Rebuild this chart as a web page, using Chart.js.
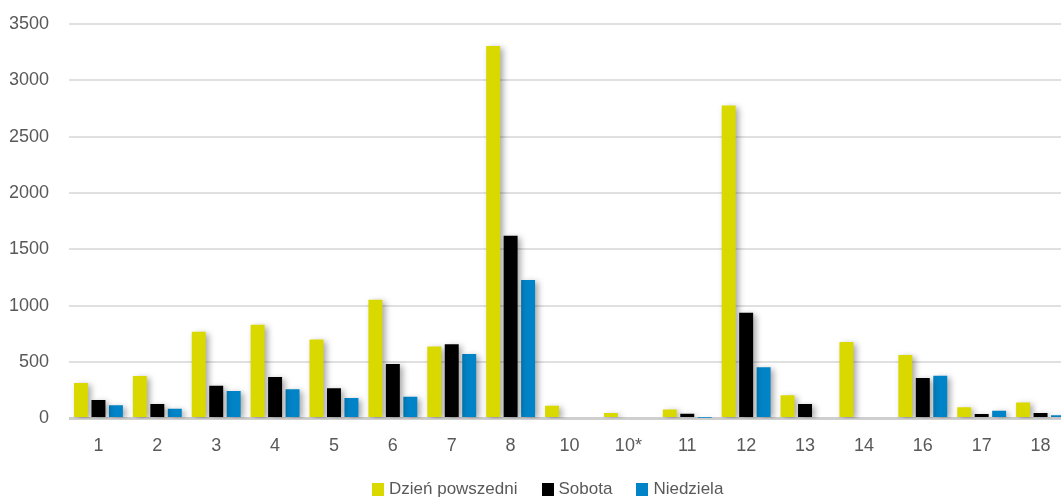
<!DOCTYPE html>
<html>
<head>
<meta charset="utf-8">
<script src="https://cdn.jsdelivr.net/npm/chart.js@4"></script>
<style>
    html, body { margin: 0; padding: 0; background: #fff; overflow: hidden; }
    #wrap { width: 1070px; height: 500px; position: relative; }
    #legend {
        position: absolute; left: 372px; top: 479px;
        display: flex; align-items: center;
        font-family: "Liberation Sans", Arial, sans-serif; font-size: 17px; color: #595959;
        line-height: 20px; white-space: nowrap;
    }
    #legend .item { display: flex; align-items: center; margin-right: 24px; }
    #legend .box { width: 12px; height: 13px; margin-right: 5px; }
</style>
</head>
<body>
<div id="wrap"><canvas id="chart"></canvas><div id="legend"></div></div>
<script>
// Kategorie (linie) i wartości
const categories = ['1', '2', '3', '4', '5', '6', '7', '8', '10', '10*', '11', '12', '13', '14', '16', '17', '18'];
const weekday = [315, 376, 768, 830, 700, 1053, 637, 3304, 112, 47, 80, 2777, 205, 679, 563, 98, 142];
const saturday = [163, 127, 290, 367, 267, 483, 658, 1620, 0, 0, 41, 937, 127, 0, 359, 38, 47];
const sunday = [116, 85, 243, 258, 181, 192, 572, 1228, 0, 0, 5, 454, 0, 0, 379, 68, 29];
const yTicks = [0, 500, 1000, 1500, 2000, 2500, 3000, 3500];

const textColor = '#595959';
const fontFamily = '"Liberation Sans", Arial, sans-serif';

// cień pod słupkami
const barShadow = {
    id: 'barShadow',
    beforeDatasetsDraw(chart) {
        const ctx = chart.ctx;
        ctx.save();
        ctx.shadowColor = 'rgba(0, 0, 0, 0.35)';
        ctx.shadowBlur = 6;
        ctx.shadowOffsetX = 3;
        ctx.shadowOffsetY = 2;
    },
    afterDatasetsDraw(chart) {
        chart.ctx.restore();
    }
};

// legenda w HTML, budowana z datasetów
const htmlLegend = {
    id: 'htmlLegend',
    afterUpdate(chart) {
        const box = document.getElementById('legend');
        box.innerHTML = '';
        chart.data.datasets.forEach(ds => {
            const item = document.createElement('div');
            item.className = 'item';
            item.innerHTML = `<span class="box" style="background:${ds.backgroundColor}"></span><span>${ds.label}</span>`;
            box.appendChild(item);
        });
    }
};

document.addEventListener('DOMContentLoaded', () => {
    const ctx = document.getElementById('chart').getContext('2d');
    new Chart(ctx, {
        type: 'bar',
        data: {
            labels: categories,
            datasets: [
                { label: 'Dzień powszedni', data: weekday, backgroundColor: '#d9d900' },
                { label: 'Sobota', data: saturday, backgroundColor: '#000000' },
                { label: 'Niedziela', data: sunday, backgroundColor: '#0084c7' }
            ]
        },
        options: {
            responsive: true,
            maintainAspectRatio: false,
            animation: false,
            datasets: {
                bar: { categoryPercentage: 0.89, barPercentage: 0.8 }
            },
            layout: { padding: { top: 24, left: 10, right: 0, bottom: 34 } },
            plugins: {
                legend: { display: false },
                tooltip: { enabled: false }
            },
            scales: {
                x: {
                    grid: { display: false },
                    border: { display: false },
                    ticks: {
                        color: textColor,
                        padding: 9,
                        font: { family: fontFamily, size: 18 }
                    }
                },
                y: {
                    min: 0,
                    max: 3500,
                    afterBuildTicks: axis => {
                        axis.ticks = yTicks.map(v => ({ value: v }));
                    },
                    afterFit: axis => {
                        axis.width = 59;
                        axis.paddingTop = 0;
                        axis.paddingBottom = 0;
                    },
                    border: { display: false },
                    grid: {
                        color: c => c.tick && c.tick.value === 0 ? '#cfcfcf' : '#e0e0e0',
                        lineWidth: c => c.tick && c.tick.value === 0 ? 3 : 2,
                        drawTicks: false
                    },
                    ticks: {
                        color: textColor,
                        padding: 20,
                        font: { family: fontFamily, size: 18 },
                        callback: v => String(v)
                    }
                }
            }
        },
        plugins: [barShadow, htmlLegend]
    });
});
</script>
</body>
</html>
